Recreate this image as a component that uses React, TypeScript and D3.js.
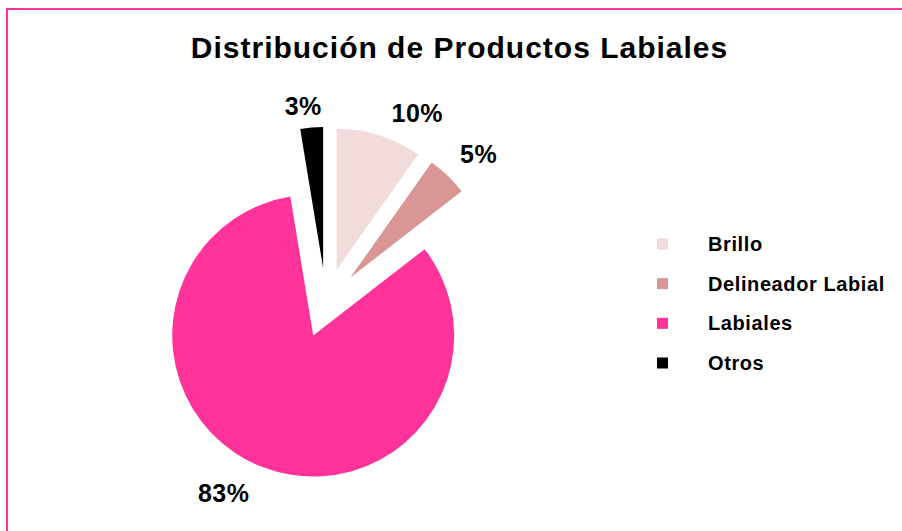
import React from "react";
import * as d3 from "d3";

const categories = ["Brillo", "Delineador Labial", "Labiales", "Otros"];
const values = [9.8, 4.7, 82.9, 2.6];
const colors = ["#F2DCDB", "#D99694", "#FF3399", "#000000"];
const title = "Distribución de Productos Labiales";

const W = 902;
const H = 531;
const cx = 326;
const cy = 303;
const R = 141;
const explode = 35;
const FONT = "'Liberation Sans', Arial, Helvetica, sans-serif";

export default function App() {
  const total = d3.sum(values);
  const pie = d3
    .pie<number>()
    .sort(null)
    .value((d) => d)
    .startAngle(0)
    .endAngle(2 * Math.PI);
  const arcs = pie(values);
  const arcGen = d3.arc<d3.PieArcDatum<number>>().innerRadius(0).outerRadius(R);

  const labelFs = 25;
  const legendY = d3
    .scalePoint<string>()
    .domain(categories)
    .range([244, 363]);

  return (
    <svg
      width={W}
      height={H}
      style={{ position: "absolute", left: 0, top: 0, background: "#fff" }}
      fontFamily={FONT}
    >
      <rect x={0} y={0} width={W} height={H} fill="#fff" />
      <rect
        x={7}
        y={9}
        width={W + 20}
        height={H + 20}
        fill="none"
        stroke="#FF3399"
        strokeWidth={2}
      />
      <text
        x={459.5}
        y={58}
        textAnchor="middle"
        fontSize={30}
        fontWeight="bold"
        letterSpacing={1.0}
        fill="#000"
      >
        {title}
      </text>
      {arcs.map((a, i) => {
        const mid = (a.startAngle + a.endAngle) / 2;
        const dx = Math.sin(mid);
        const dy = -Math.cos(mid);
        const ox = cx + dx * explode;
        const oy = cy + dy * explode;
        const label = Math.round((values[i] / total) * 100) + "%";
        const w = label.length === 3 ? 50 : 36;
        const sx = Math.max(-1, Math.min(1, dx * 3.3));
        const lx = ox + dx * R + sx * (w / 2 + 13);
        const ly = oy + dy * R + (dy < 0 ? -21 : 27);
        return (
          <g key={categories[i]}>
            <path
              d={arcGen(a) || ""}
              transform={`translate(${ox},${oy})`}
              fill={colors[i]}
            />
            <text
              x={lx}
              y={ly + 8}
              textAnchor="middle"
              fontSize={labelFs}
              fontWeight="bold"
              letterSpacing={0.5}
              fill="#000"
            >
              {label}
            </text>
          </g>
        );
      })}
      {categories.map((c, i) => {
        const y = legendY(c) as number;
        return (
          <g key={"lg" + c}>
            <rect x={657} y={y - 5.5} width={11} height={11} fill={colors[i]} />
            <text
              x={708}
              y={y + 7}
              fontSize={20}
              fontWeight="bold"
              letterSpacing={0.6}
              fill="#000"
            >
              {c}
            </text>
          </g>
        );
      })}
    </svg>
  );
}
